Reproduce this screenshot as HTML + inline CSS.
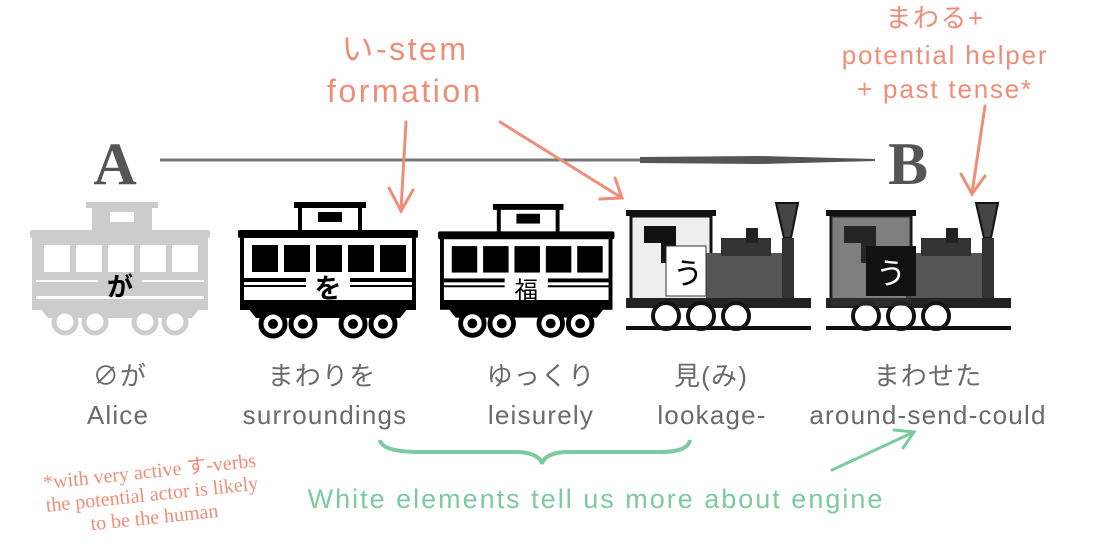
<!DOCTYPE html>
<html><head><meta charset="utf-8"><style>
html,body{margin:0;padding:0;background:#fff;}
svg{display:block;}
.lbl{font-family:"Liberation Sans","Noto Sans CJK JP",sans-serif;fill:#6a6a6a;font-size:26px;letter-spacing:1.2px;text-anchor:middle;}
.or{font-family:"Liberation Sans","Noto Sans CJK JP",sans-serif;fill:#ef8e76;text-anchor:middle;}
</style></head><body>
<svg width="1110" height="560" viewBox="0 0 1110 560" xmlns="http://www.w3.org/2000/svg">
<defs>
<g id="carB">
  <rect x="54" y="2" width="72" height="6" fill="#000"/>
  <rect x="60" y="6" width="60" height="28" fill="#fff" stroke="#000" stroke-width="4"/>
  <rect x="78" y="12" width="24" height="10" fill="#000"/>
  <rect x="-2" y="30" width="180" height="8" rx="2" fill="#000"/>
  <rect x="2" y="36" width="172" height="72" fill="#fff" stroke="#000" stroke-width="4"/>
  <rect x="12" y="45" width="26" height="27" fill="#000"/>
  <rect x="44" y="45" width="26" height="27" fill="#000"/>
  <rect x="76" y="45" width="26" height="27" fill="#000"/>
  <rect x="108" y="45" width="26" height="27" fill="#000"/>
  <rect x="140" y="45" width="26" height="27" fill="#000"/>
  <rect x="4" y="78" width="62" height="4" fill="#000"/><rect x="4" y="85" width="62" height="2" fill="#000"/>
  <rect x="110" y="78" width="62" height="4" fill="#000"/><rect x="110" y="85" width="62" height="2" fill="#000"/>
  <rect x="0" y="100" width="176" height="8" fill="#000"/>
  <path d="M8 108 H168 L160 118 H16 Z" fill="#000"/>
  <g fill="#fff" stroke="#000" stroke-width="5">
   <circle cx="33" cy="124" r="12"/><circle cx="63" cy="124" r="12"/><circle cx="113" cy="124" r="12"/><circle cx="143" cy="124" r="12"/></g>
  <g fill="#000"><circle cx="33" cy="124" r="5"/><circle cx="63" cy="124" r="5"/><circle cx="113" cy="124" r="5"/><circle cx="143" cy="124" r="5"/></g>
</g>
<g id="loco">
  <rect x="0" y="12" width="90" height="6" fill="#111"/>
  <rect x="5" y="18" width="80" height="90" fill="#eee" stroke="#111" stroke-width="3"/>
  <path d="M18 28 H50 V65 H35 V45 H18 Z" fill="#111"/>
  <rect x="80" y="55" width="80" height="45" fill="#555"/>
  <rect x="95" y="40" width="50" height="18" fill="#333"/>
  <rect x="120" y="30" width="12" height="15" fill="#222"/>
  <path d="M150 5 L172 5 L165 40 H158 Z" fill="#444" stroke="#111" stroke-width="2"/>
  <rect x="156" y="40" width="12" height="60" fill="#333"/>
  <rect x="0" y="100" width="185" height="10" fill="#222"/>
  <g fill="#fff" stroke="#111" stroke-width="4">
    <circle cx="40" cy="118" r="13"/><circle cx="75" cy="118" r="13"/><circle cx="110" cy="118" r="13"/></g>
  <rect x="0" y="128" width="185" height="4" fill="#111"/>
</g>
</defs>

<text x="115" y="184" font-family="Liberation Serif,serif" font-weight="bold" font-size="60" fill="#555" text-anchor="middle">A</text>
<text x="908" y="184" font-family="Liberation Serif,serif" font-weight="bold" font-size="60" fill="#555" text-anchor="middle">B</text>
<line x1="160" y1="160" x2="640" y2="160" stroke="#777" stroke-width="3"/>
<path d="M640 157 L760 156 L875 159 L875 161 L760 164 L640 163 Z" fill="#555"/>

<g transform="translate(32,200)">
  <rect x="54" y="2" width="72" height="6" fill="#ccc"/>
  <rect x="60" y="6" width="60" height="28" fill="#ccc"/>
  <rect x="78" y="12" width="24" height="10" fill="#fff"/>
  <rect x="-2" y="30" width="180" height="8" rx="2" fill="#ccc"/>
  <rect x="0" y="36" width="176" height="74" fill="#ccc"/>
  <g fill="#fff"><rect x="12" y="45" width="26" height="27"/><rect x="44" y="45" width="26" height="27"/><rect x="76" y="45" width="26" height="27"/><rect x="108" y="45" width="26" height="27"/><rect x="140" y="45" width="26" height="27"/>
  <rect x="4" y="80" width="62" height="2"/><rect x="110" y="80" width="62" height="2"/><rect x="4" y="96" width="168" height="3"/></g>
  <path d="M8 108 H168 L160 118 H16 Z" fill="#ccc"/>
  <g fill="#fff" stroke="#ccc" stroke-width="5"><circle cx="33" cy="122" r="11"/><circle cx="63" cy="122" r="11"/><circle cx="113" cy="122" r="11"/><circle cx="143" cy="122" r="11"/></g>
  <text x="88" y="96" font-family="Noto Sans CJK JP,sans-serif" font-weight="bold" font-size="26" text-anchor="middle" fill="#000">が</text>
</g>
<g transform="translate(240,200)"><use href="#carB"/>
  <text x="88" y="98" font-family="Noto Sans CJK JP,sans-serif" font-weight="bold" font-size="27" text-anchor="middle" fill="#000">を</text></g>
<g transform="translate(440,202) scale(0.98)"><use href="#carB"/>
  <text x="88" y="98" font-family="Noto Sans CJK JP,sans-serif" font-size="24" text-anchor="middle" fill="#000">福</text></g>

<g transform="translate(626,198)"><use href="#loco"/>
  <rect x="40" y="48" width="40" height="50" fill="#fff" stroke="#333" stroke-width="1"/>
  <text x="62" y="86" font-family="Noto Sans CJK JP,sans-serif" font-size="30" text-anchor="middle" fill="#000">う</text></g>
<g transform="translate(826,198)"><use href="#loco"/>
  <rect x="5" y="18" width="80" height="90" fill="#333" opacity="0.6"/>
  <rect x="40" y="48" width="50" height="50" fill="#111"/>
  <text x="65" y="86" font-family="Noto Sans CJK JP,sans-serif" font-size="30" text-anchor="middle" fill="#fff">う</text></g>

<text class="or" x="405" y="60" font-size="32" letter-spacing="2.5">い-stem</text>
<text class="or" x="405" y="102" font-size="32" letter-spacing="2.5">formation</text>
<text class="or" x="935" y="27" font-size="26" letter-spacing="1.5">まわる+</text>
<text class="or" x="945" y="64" font-size="26" letter-spacing="1.8">potential helper</text>
<text class="or" x="945" y="98" font-size="26" letter-spacing="1.8">+ past tense*</text>
<g stroke="#ef8e76" stroke-width="3" fill="none" stroke-linecap="round">
  <line x1="406" y1="122" x2="401" y2="210"/><path d="M389 188 L401 211 L413 190"/>
  <line x1="500" y1="122" x2="622" y2="198"/><path d="M600 199 L622 198 L615 178"/>
  <line x1="985" y1="106" x2="972" y2="193"/><path d="M961 174 L972 194 L985 176"/>
</g>

<text class="lbl" x="120" y="385">∅が</text>
<text class="lbl" x="322" y="385">まわりを</text>
<text class="lbl" x="541" y="385">ゆっくり</text>
<text class="lbl" x="711" y="385">見(み)</text>
<text class="lbl" x="928" y="385">まわせた</text>
<text class="lbl" x="118" y="424">Alice</text>
<text class="lbl" x="325" y="424">surroundings</text>
<text class="lbl" x="541" y="424">leisurely</text>
<text class="lbl" x="712" y="424">lookage-</text>
<text class="lbl" x="928" y="424">around-send-could</text>

<path d="M380 440 Q382 452 420 452 L520 452 Q540 454 542 464 Q544 454 564 452 L660 452 Q688 452 690 440" stroke="#7ccaa0" stroke-width="4" fill="none"/>
<g stroke="#7ccaa0" stroke-width="3" fill="none" stroke-linecap="round">
  <line x1="832" y1="470" x2="914" y2="432"/><path d="M894 430 L914 432 L903 448"/>
</g>
<text x="596" y="508" font-family="Liberation Sans,sans-serif" font-size="27" letter-spacing="2" fill="#7ccaa0" text-anchor="middle">White elements tell us more about engine</text>

<g transform="rotate(-6 150 495)" font-family="Liberation Serif,serif" font-size="20" fill="#ef8e76" text-anchor="middle">
  <text x="152" y="478">*with very active す-verbs</text>
  <text x="152" y="501">the potential actor is likely</text>
  <text x="152" y="524">to be the  human</text>
</g>
</svg>
</body></html>
